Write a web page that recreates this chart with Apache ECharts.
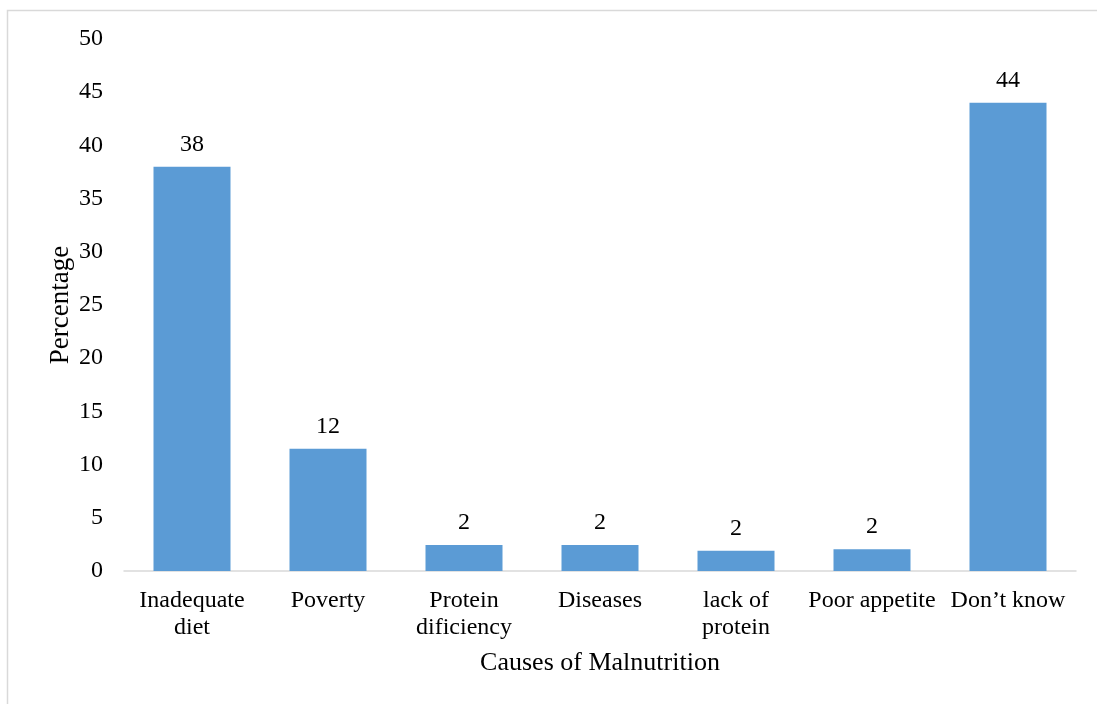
<!DOCTYPE html>
<html lang="en">
<head>
    <meta charset="UTF-8">
    <title>Causes of Malnutrition</title>
    <style>
        html, body { margin: 0; padding: 0; background: #fff; }
        #container { width: 1097px; height: 704px; }
    </style>
</head>
<body>
<div id="container"></div>
<script src="https://cdn.jsdelivr.net/npm/echarts@6/dist/echarts.min.js"></script>
<script type="text/javascript">
    var categories = ['Inadequate\ndiet', 'Poverty', 'Protein\ndificiency', 'Diseases', 'lack of\nprotein', 'Poor appetite', 'Don\u2019t know'];
    // bar heights as drawn, labels as printed
    var values = [38, 11.5, 2.45, 2.45, 1.9, 2.05, 44];
    var labels = ['38', '12', '2', '2', '2', '2', '44'];

    var font = '"Liberation Serif", "Times New Roman", serif';
    var chart = echarts.init(document.getElementById('container'));
    var option = {
        animation: false,
        textStyle: { fontFamily: font },
        graphic: [{
            type: 'rect',
            shape: { x: 7.5, y: 10.5, width: 1200, height: 800 },
            style: { fill: 'none', stroke: '#d9d9d9', lineWidth: 1.5 }
        }],
        grid: { left: 124, right: 21, top: 39, bottom: 133 },
        xAxis: {
            type: 'category',
            data: categories,
            name: 'Causes of Malnutrition',
            nameLocation: 'middle',
            nameGap: 79,
            nameTextStyle: { fontSize: 26, color: '#000', fontFamily: font },
            axisLine: { lineStyle: { color: '#d9d9d9', width: 1.5 } },
            axisTick: { show: false },
            axisLabel: { color: '#000', fontSize: 24, fontFamily: font, lineHeight: 27, margin: 16, interval: 0 }
        },
        yAxis: {
            type: 'value',
            min: 0,
            max: 50,
            interval: 5,
            name: 'Percentage',
            nameLocation: 'middle',
            nameGap: 50,
            nameMoveOverlap: false,
            nameRotate: 90,
            nameTextStyle: { fontSize: 27, color: '#000', fontFamily: font },
            axisLine: { show: false },
            axisTick: { show: false },
            splitLine: { show: false },
            axisLabel: { color: '#000', fontSize: 24, fontFamily: font, margin: 21 }
        },
        series: [{
            type: 'bar',
            data: values,
            barWidth: 77,
            itemStyle: { color: '#5b9bd5' },
            label: {
                show: true,
                position: 'top',
                distance: 10,
                color: '#000',
                fontSize: 24,
                fontFamily: font,
                formatter: function (p) { return labels[p.dataIndex]; }
            }
        }]
    };
    chart.setOption(option);
</script>
</body>
</html>
